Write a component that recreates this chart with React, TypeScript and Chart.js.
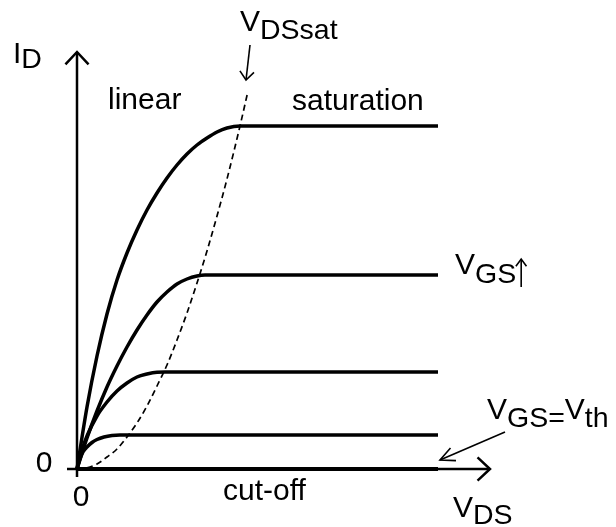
import React, { useEffect, useRef } from "react";
import { Chart, registerables } from "chart.js";

Chart.register(...registerables);

// V_DS (x) and I_D (y) readings, in arbitrary units
const vdsTop = [0, 0.1, 0.2, 0.3, 0.4, 0.5, 0.6, 0.7, 0.8, 0.9, 1.0, 1.1, 1.2, 1.3, 1.4, 1.5, 1.63, 3.61];
const idTop = [0, 0.62, 1.13, 1.55, 1.89, 2.16, 2.39, 2.59, 2.76, 2.91, 3.04, 3.15, 3.24, 3.31, 3.37, 3.41, 3.43, 3.43];

const vdsSecond = [0, 0.1, 0.2, 0.3, 0.4, 0.5, 0.6, 0.7, 0.8, 0.9, 1.0, 1.1, 1.2, 1.28, 3.61];
const idSecond = [0, 0.31, 0.58, 0.82, 1.03, 1.22, 1.39, 1.54, 1.67, 1.77, 1.85, 1.9, 1.93, 1.94, 1.94];

const vdsThird = [0, 0.05, 0.1, 0.2, 0.3, 0.4, 0.5, 0.6, 0.7, 0.8, 0.88, 3.61];
const idThird = [0, 0.19, 0.33, 0.53, 0.67, 0.78, 0.86, 0.92, 0.95, 0.968, 0.97, 0.97];

const vdsFourth = [0, 0.03, 0.06, 0.1, 0.15, 0.2, 0.27, 0.35, 0.43, 3.61];
const idFourth = [0, 0.1, 0.17, 0.22, 0.265, 0.295, 0.32, 0.335, 0.34, 0.34];

const vdsCutoff = [0, 3.61];
const idCutoff = [0, 0];

const vdsSat = [0, 0.1, 0.2, 0.3, 0.4, 0.5, 0.6, 0.7, 0.8, 0.9, 1.0, 1.1, 1.2, 1.3, 1.4, 1.5, 1.63, 1.71];
const idSat = [0, 0.013, 0.05, 0.12, 0.2, 0.32, 0.46, 0.63, 0.83, 1.04, 1.29, 1.56, 1.86, 2.18, 2.53, 2.9, 3.43, 3.78];

const xMin = -0.1;
const xMax = 4.13;
const yMin = -0.08;
const yMax = 4.17;

const zip = (xs: number[], ys: number[]) => xs.map((x, i) => ({ x, y: ys[i] }));

const FONT = "'Liberation Sans', Arial, Helvetica, sans-serif";

function arrowHead(ctx: CanvasRenderingContext2D, x1: number, y1: number, x2: number, y2: number, len: number, spread: number) {
  const a = Math.atan2(y2 - y1, x2 - x1);
  ctx.beginPath();
  ctx.moveTo(x2 - len * Math.cos(a - spread), y2 - len * Math.sin(a - spread));
  ctx.lineTo(x2, y2);
  ctx.lineTo(x2 - len * Math.cos(a + spread), y2 - len * Math.sin(a + spread));
  ctx.stroke();
}

const decorPlugin = {
  id: "decor",
  afterDatasetsDraw(chart: any) {
    const ctx: CanvasRenderingContext2D = chart.ctx;
    const xs = chart.scales.x;
    const ys = chart.scales.y;
    const X = (v: number) => xs.getPixelForValue(v);
    const Y = (v: number) => ys.getPixelForValue(v);
    ctx.save();
    ctx.strokeStyle = "#000";
    ctx.fillStyle = "#000";
    ctx.lineCap = "butt";
    // axes
    ctx.lineWidth = 2.5;
    ctx.beginPath();
    ctx.moveTo(X(xMin), Y(0));
    ctx.lineTo(X(xMax), Y(0));
    ctx.moveTo(X(0), Y(yMin));
    ctx.lineTo(X(0), Y(yMax));
    ctx.stroke();
    ctx.lineJoin = "miter";
    arrowHead(ctx, X(0), Y(0), X(xMax), Y(0), 17, Math.PI / 4.2);
    arrowHead(ctx, X(0), Y(0), X(0), Y(yMax), 17, Math.PI / 4.2);

    const text = (s: string, x: number, y: number, size: number, align: CanvasTextAlign = "left") => {
      ctx.font = `${size}px ${FONT}`;
      ctx.textAlign = align;
      ctx.textBaseline = "alphabetic";
      ctx.fillText(s, x, y);
      return ctx.measureText(s).width;
    };
    const main = 30;
    const sub = 28.5;
    const sym = (base: string, subs: string, x: number, y: number, drop: number) => {
      const w = text(base, x, y, main);
      const w2 = text(subs, x + w, y + drop, sub);
      return w + w2;
    };

    // axis labels
    sym("I", "D", 13, 63, 5);
    sym("V", "DS", 453, 517, 7);
    text("0", 44, 472, main, "center");
    text("0", 81, 506, main, "center");

    // region labels
    text("linear", 108, 109, main);
    text("saturation", 292, 110, main);
    text("cut-off", 223, 500, main);

    // V_DSsat label and arrow
    sym("V", "DSsat", 240, 31, 8);
    ctx.lineWidth = 1.6;
    ctx.beginPath();
    ctx.moveTo(250, 45);
    ctx.lineTo(246, 80);
    ctx.stroke();
    arrowHead(ctx, 250, 45, 246, 80, 11, Math.PI / 4.5);

    // V_GS increasing
    const wGS = sym("V", "GS", 455, 274, 9);
    const ax = 455 + wGS + 5;
    ctx.beginPath();
    ctx.moveTo(ax, 287);
    ctx.lineTo(ax, 259);
    ctx.stroke();
    arrowHead(ctx, ax, 287, ax, 259, 9, Math.PI / 5);

    // V_GS = V_th label and arrow
    const w = sym("V", "GS=", 487, 419, 8);
    sym("V", "th", 487 + w, 419, 8);
    ctx.beginPath();
    ctx.moveTo(505, 432);
    ctx.lineTo(440, 460);
    ctx.stroke();
    arrowHead(ctx, 505, 432, 440, 460, 16, Math.PI / 7);
    ctx.restore();
  },
};

export default function App() {
  const ref = useRef<HTMLCanvasElement>(null);
  useEffect(() => {
    if (!ref.current) return;
    const solid = (xs: number[], ys: number[]) => ({
      data: zip(xs, ys),
      borderColor: "#000",
      borderWidth: 3.5,
      pointRadius: 0,
      fill: false,
      clip: false as any,
      cubicInterpolationMode: "monotone" as const,
    });
    const chart = new Chart(ref.current, {
      type: "line",
      data: {
        datasets: [
          solid(vdsTop, idTop),
          solid(vdsSecond, idSecond),
          solid(vdsThird, idThird),
          solid(vdsFourth, idFourth),
          { ...solid(vdsCutoff, idCutoff), borderWidth: 4 },
          {
            ...solid(vdsSat, idSat),
            borderWidth: 1.7,
            borderDash: [6, 4],
          },
        ],
      },
      options: {
        animation: false,
        responsive: false,
        maintainAspectRatio: false,
        events: [],
        layout: { padding: { left: 67, right: 616 - 490, top: 52, bottom: 527 - 477 } },
        plugins: { legend: { display: false }, tooltip: { enabled: false } },
        scales: {
          x: { type: "linear", min: xMin, max: xMax, display: false },
          y: { type: "linear", min: yMin, max: yMax, display: false },
        },
      },
      plugins: [decorPlugin],
    });
    return () => chart.destroy();
  }, []);
  return (
    <div style={{ position: "fixed", left: 0, top: 0, width: 616, height: 527, background: "#fff" }}>
      <canvas ref={ref} width={616} height={527} style={{ display: "block" }} />
    </div>
  );
}
